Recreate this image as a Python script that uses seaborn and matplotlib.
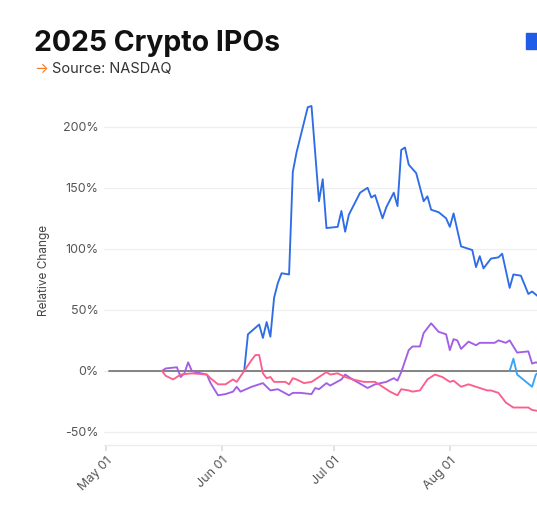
import matplotlib.pyplot as plt
import matplotlib.dates as mdates
from matplotlib.lines import Line2D
from matplotlib.ticker import FuncFormatter, MultipleLocator
import seaborn as sns
import pandas as pd

# Relative change (%) since listing
crcl_dates = ["2025-06-07", "2025-06-08", "2025-06-11", "2025-06-12", "2025-06-13", "2025-06-14",
              "2025-06-15", "2025-06-16", "2025-06-17", "2025-06-19", "2025-06-20", "2025-06-21",
              "2025-06-24", "2025-06-25", "2025-06-26", "2025-06-27", "2025-06-28", "2025-06-29",
              "2025-07-02", "2025-07-03", "2025-07-04", "2025-07-05", "2025-07-08", "2025-07-10",
              "2025-07-11", "2025-07-12", "2025-07-14", "2025-07-15", "2025-07-17", "2025-07-18",
              "2025-07-19", "2025-07-20", "2025-07-21", "2025-07-23", "2025-07-25", "2025-07-26",
              "2025-07-27", "2025-07-29", "2025-07-31", "2025-08-01", "2025-08-02", "2025-08-04",
              "2025-08-07", "2025-08-08", "2025-08-09", "2025-08-10", "2025-08-12", "2025-08-14",
              "2025-08-15", "2025-08-17", "2025-08-18", "2025-08-20", "2025-08-22", "2025-08-23",
              "2025-08-25", "2025-08-27"]
crcl_values = [0, 30, 38, 27, 40, 28,
               60, 72, 80, 79, 163, 179,
               216, 217, 178, 139, 157, 117,
               118, 131, 114, 128, 146, 150,
               142, 144, 125, 134, 146, 135,
               181, 183, 169, 162, 139, 143,
               132, 130, 125, 118, 129, 102,
               99, 85, 94, 84, 92, 93,
               96, 68, 79, 78, 63, 65,
               60, 58]

glxy_dates = ["2025-05-16", "2025-05-17", "2025-05-20", "2025-05-21", "2025-05-22", "2025-05-23",
              "2025-05-24", "2025-05-25", "2025-05-28", "2025-05-29", "2025-05-31", "2025-06-02",
              "2025-06-04", "2025-06-05", "2025-06-06", "2025-06-09", "2025-06-12", "2025-06-14",
              "2025-06-16", "2025-06-19", "2025-06-20", "2025-06-22", "2025-06-25", "2025-06-26",
              "2025-06-27", "2025-06-29", "2025-06-30", "2025-07-03", "2025-07-04", "2025-07-06",
              "2025-07-10", "2025-07-12", "2025-07-15", "2025-07-17", "2025-07-18", "2025-07-19",
              "2025-07-21", "2025-07-22", "2025-07-24", "2025-07-25", "2025-07-27", "2025-07-29",
              "2025-07-31", "2025-08-01", "2025-08-02", "2025-08-03", "2025-08-04", "2025-08-06",
              "2025-08-08", "2025-08-09", "2025-08-11", "2025-08-13", "2025-08-14", "2025-08-16",
              "2025-08-17", "2025-08-19", "2025-08-22", "2025-08-23", "2025-08-24", "2025-08-26"]
glxy_values = [0, 2, 3, -5, -2, 7,
               0, -1, -3, -10, -20, -19,
               -17, -13, -17, -13, -10, -16,
               -15, -20, -18, -18, -19, -14,
               -15, -10, -12, -7, -3, -7,
               -14, -11, -9, -6, -8, -1,
               17, 20, 20, 31, 39, 32,
               30, 17, 26, 25, 18, 24,
               21, 23, 23, 23, 25, 23,
               25, 15, 16, 6, 7, 5]

etor_dates = ["2025-05-16", "2025-05-17", "2025-05-19", "2025-05-21", "2025-05-24", "2025-05-28",
              "2025-05-29", "2025-05-31", "2025-06-02", "2025-06-04", "2025-06-05", "2025-06-07",
              "2025-06-09", "2025-06-10", "2025-06-11", "2025-06-12", "2025-06-13", "2025-06-14",
              "2025-06-15", "2025-06-18", "2025-06-19", "2025-06-20", "2025-06-21", "2025-06-23",
              "2025-06-25", "2025-06-27", "2025-06-29", "2025-06-30", "2025-07-02", "2025-07-04",
              "2025-07-06", "2025-07-09", "2025-07-12", "2025-07-14", "2025-07-16", "2025-07-18",
              "2025-07-19", "2025-07-21", "2025-07-22", "2025-07-24", "2025-07-26", "2025-07-28",
              "2025-07-30", "2025-08-01", "2025-08-02", "2025-08-04", "2025-08-06", "2025-08-08",
              "2025-08-11", "2025-08-12", "2025-08-14", "2025-08-16", "2025-08-18", "2025-08-22",
              "2025-08-23", "2025-08-25", "2025-08-27"]
etor_values = [0, -4, -7, -3, -2, -3,
               -6, -11, -11, -7, -9, 0,
               9, 13, 13, -2, -6, -5,
               -9, -9, -11, -6, -7, -10,
               -9, -5, -1, -3, -2, -5,
               -7, -9, -9, -13, -17, -20,
               -15, -16, -17, -16, -7, -3,
               -5, -9, -8, -13, -11, -13,
               -16, -16, -18, -26, -30, -30,
               -32, -33, -33]

blsh_dates = ["2025-08-17", "2025-08-18", "2025-08-19", "2025-08-21", "2025-08-23", "2025-08-24",
              "2025-08-26"]
blsh_values = [0, 10, -3, -8, -13, -3, 2]

tickers = ["CRCL", "GLXY", "ETOR", "BLSH"]
colors = ["#2f6de6", "#a25ee6", "#fb5f8e", "#3aa3f5"]
legend_colors = ["#1f5ce8", "#9b4fe3", "#f9467f", "#2a9bf3"]

frames = []
for name, d, v in [("CRCL", crcl_dates, crcl_values), ("GLXY", glxy_dates, glxy_values),
                   ("ETOR", etor_dates, etor_values), ("BLSH", blsh_dates, blsh_values)]:
    frames.append(pd.DataFrame({"date": pd.to_datetime(d), "change": v, "ticker": name}))
df = pd.concat(frames, ignore_index=True)

sns.set_theme(style="white")
plt.rcParams['font.family'] = ['Inter', 'DejaVu Sans']

fig = plt.figure(figsize=(5.37, 5.12), dpi=100)
# the chart runs past the right edge of the picture, as in the source screenshot
ax = fig.add_axes([104 / 537, 67 / 512, 458 / 537, 350 / 512])

ax.axhline(0, xmin=0.011, color="#7a7a7a", linewidth=1.3, zorder=1)
sns.lineplot(data=df, x="date", y="change", hue="ticker", hue_order=tickers,
             palette=dict(zip(tickers, colors)), estimator=None, linewidth=1.35,
             legend=False, ax=ax, zorder=2)

ax.set_xlim(pd.Timestamp("2025-04-30 12:00"), pd.Timestamp("2025-08-31"))
ax.set_ylim(-60.7, 226)
ax.yaxis.set_major_locator(MultipleLocator(50))
ax.yaxis.set_major_formatter(FuncFormatter(lambda v, _: f"{v:.0f}%"))
ax.grid(axis="y", color="#efefef", linewidth=0.9)
ax.set_axisbelow(True)

ax.xaxis.set_major_locator(mdates.MonthLocator(bymonthday=1))
ax.xaxis.set_major_formatter(mdates.DateFormatter("%b %d"))
for lbl in ax.get_xticklabels():
    lbl.set_rotation(45)
    lbl.set_ha("right")
    lbl.set_rotation_mode("anchor")

for side in ["top", "right", "left"]:
    ax.spines[side].set_visible(False)
ax.spines["bottom"].set_color("#ececec")
ax.spines["bottom"].set_linewidth(1)
ax.tick_params(axis="x", bottom=True, length=4, color="#dddddd", labelsize=9,
               labelcolor="#555555", pad=3)
ax.tick_params(axis="y", left=False, length=0, labelsize=9, labelcolor="#555555", pad=4)

ax.set_xlabel("")
ax.set_ylabel("Relative Change", fontsize=8.5, color="#444444", labelpad=9)

fig.text(34 / 537, 1 - 51 / 512, "2025 Crypto IPOs", fontsize=20.5, fontweight="bold",
         color="#111111", va="baseline", ha="left")
fig.text(34 / 537, 1 - 73 / 512, "→", fontsize=10.5, color="#f47b20", va="baseline", ha="left")
fig.text(52 / 537, 1 - 73 / 512, "Source: NASDAQ", fontsize=10.5, color="#333333",
         va="baseline", ha="left")

handles = [Line2D([], [], linestyle="none", marker="s", markersize=11.5,
                  markerfacecolor=c, markeredgecolor=c) for c in legend_colors]
fig.legend(handles, tickers, loc="upper left", bbox_to_anchor=(526 / 537, 1 - 35 / 512),
           ncol=4, frameon=False, handlelength=1.0, handletextpad=0.5, borderpad=0,
           borderaxespad=0, columnspacing=1.5, fontsize=11.5)

fig.savefig("out.png", dpi=100)
